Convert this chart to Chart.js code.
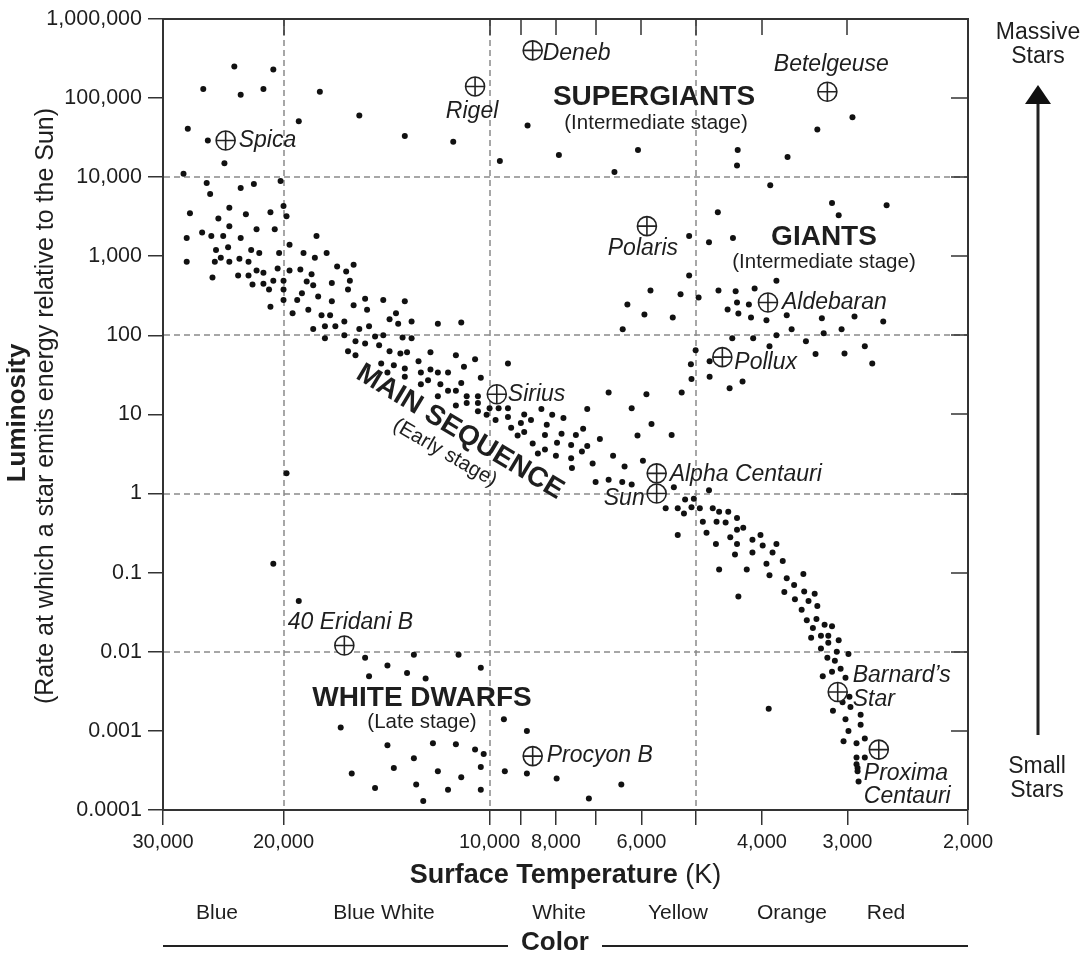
<!DOCTYPE html>
<html>
<head>
<meta charset="utf-8">
<title>Hertzsprung-Russell Diagram</title>
<script src="https://cdn.jsdelivr.net/npm/chart.js@4.4.1/dist/chart.umd.min.js"></script>
<style>
  html, body { margin: 0; padding: 0; background: #fff; }
  canvas { display: block; }
</style>
</head>
<body>
<canvas id="hr" width="1085" height="958"></canvas>
<script>
// axis ticks
const xTicks = [30000, 20000, 10000, 9000, 8000, 7000, 6000, 5000, 4000, 3000, 2000];
const xTickLabels = ["30,000", "20,000", "10,000", "", "8,000", "", "6,000", "", "4,000", "3,000", "2,000"];
const yTicks = [1e-4, 1e-3, 1e-2, 0.1, 1, 10, 100, 1e3, 1e4, 1e5, 1e6];
const yTickLabels = ["0.0001", "0.001", "0.01", "0.1", "1", "10", "100", "1,000", "10,000", "100,000", "1,000,000"];
const xGridLines = [20000, 10000, 5000];
const yGridLines = [1e4, 100, 1, 0.01];
const colorNames = ["Blue", "Blue White", "White", "Yellow", "Orange", "Red"];

// [temperature K, luminosity Lsun]
const supergiantStars = [
  [23600, 2.5e5], [20700, 2.3e5], [26200, 1.3e5], [23100, 1.1e5], [21400, 1.3e5], [17700, 1.2e5],
  [15500, 6.0e4], [19000, 5.1e4], [27600, 4.1e4], [25800, 2.9e4], [13300, 3.3e4], [11300, 2.8e4],
  [9660, 1.6e4], [8800, 4.5e4], [7920, 1.9e4], [6070, 2.2e4], [6570, 1.16e4], [4340, 2.2e4],
  [4350, 1.4e4], [3890, 7900], [2950, 5.7e4], [3320, 4.0e4], [3670, 1.8e4]
];

const giantStars = [
  [4640, 3600], [5110, 1800], [4780, 1500], [4410, 1700], [3160, 4700], [3090, 3300], [2630, 4400],
  [5110, 570], [5820, 370], [5260, 330], [4950, 300], [4630, 370], [4370, 360], [4100, 390], [3810, 490],
  [6290, 245], [5940, 184], [5400, 168], [6390, 119], [4490, 212], [4350, 260], [4180, 245], [4330, 189],
  [4150, 168], [4420, 92], [4120, 92], [5000, 65], [4770, 47], [5080, 43], [5070, 28], [4770, 30],
  [4460, 21.5], [4270, 26], [3940, 155], [3680, 179], [3270, 164], [2930, 173], [2660, 150], [3620, 119],
  [3250, 106], [3060, 119], [3810, 100], [3450, 84], [3900, 73], [3340, 58], [3030, 59], [2830, 73], [2760, 44]
];

const mainSequenceStars = [
  [24400, 1.5e4], [28000, 1.1e4], [25900, 8400], [20200, 8900], [23100, 7300], [22100, 8200], [25600, 6100],
  [27400, 3500], [24000, 4100], [24900, 3000], [22700, 3400], [20900, 3600], [20000, 4300], [19800, 3200],
  [26300, 2000], [24000, 2400], [25500, 1800], [24500, 1800], [23100, 1700], [21900, 2200], [20600, 2200],
  [27700, 1700], [19600, 1400], [17900, 1800], [25100, 1200], [24100, 1300], [22300, 1200], [21700, 1100],
  [20300, 1100], [18700, 1100], [18000, 960], [17300, 1100], [27700, 850], [25200, 850], [24700, 960],
  [24000, 850], [23200, 930], [22500, 850], [21900, 660], [21400, 620], [20400, 700], [19600, 660],
  [18900, 680], [18200, 590], [16700, 740], [16200, 640], [15800, 780],
  [25400, 540], [23300, 570], [22500, 570], [22200, 440], [21400, 450], [20700, 490], [20000, 490],
  [18500, 480], [18100, 430], [17000, 460], [16000, 490],
  [21000, 380], [20000, 380], [18800, 340], [16100, 380], [20900, 230], [20000, 280], [19100, 280],
  [19400, 190], [18400, 210], [17800, 310], [17000, 270], [17600, 180], [17100, 180], [15800, 240],
  [15200, 290], [15100, 210], [14300, 280], [13300, 270], [13700, 190], [14000, 160], [13600, 140],
  [13000, 150], [11900, 140], [11000, 145],
  [18100, 120], [17400, 130], [16800, 130], [16300, 150], [15500, 120], [15000, 130], [16300, 100],
  [17400, 92], [15700, 84], [15200, 79], [14700, 97], [14300, 100], [13400, 94], [13000, 92], [14500, 75],
  [16100, 63], [15700, 56], [14000, 63], [13500, 59], [13200, 61], [12200, 61], [11200, 56], [10500, 50],
  [14400, 44], [13800, 42], [12700, 47], [14100, 34], [13300, 38], [12600, 34], [12200, 37], [11900, 34],
  [11500, 34], [10900, 40], [13300, 30], [12300, 27], [12600, 24], [11800, 24], [11000, 25], [10300, 29],
  [11500, 20], [11200, 20], [11900, 17], [10800, 17], [10400, 17], [11200, 13], [10800, 14], [10400, 14],
  [10400, 11], [10100, 9.9], [10000, 12], [9800, 8.5], [9700, 12], [9400, 44], [19800, 1.8],
  [9400, 12], [9400, 9.3], [8900, 10], [8700, 8.5], [8400, 11.7], [8100, 9.9], [7800, 9.0], [9300, 6.8],
  [9000, 7.8], [8900, 6.0], [9100, 5.4], [8250, 7.4], [8300, 5.5], [7850, 5.7], [7480, 5.5], [7300, 6.6],
  [8650, 4.3], [8500, 3.2], [8300, 3.6], [7970, 4.4], [8000, 3.0], [7600, 4.1], [7600, 2.8], [7330, 3.4],
  [7200, 4.0], [7580, 2.1], [7070, 2.4],
  [6700, 19], [5900, 18], [5240, 19], [6200, 12], [7200, 11.7], [5800, 7.6], [5420, 5.5], [6080, 5.4],
  [6900, 4.9], [6600, 3.0], [5970, 2.6], [6350, 2.2], [7000, 1.4], [6700, 1.5], [6400, 1.4], [6200, 1.3],
  [5380, 1.2], [4780, 1.1], [5180, 0.84], [5030, 0.86], [5530, 0.65], [5310, 0.65], [5200, 0.56],
  [5070, 0.67], [4930, 0.65], [4720, 0.65], [4620, 0.59], [4480, 0.59], [4880, 0.44], [4660, 0.44],
  [4520, 0.43], [4350, 0.49], [4350, 0.35], [4260, 0.37], [4820, 0.32], [4450, 0.28], [5310, 0.30],
  [4670, 0.23], [4350, 0.23], [4130, 0.26], [4020, 0.30], [4380, 0.17], [3990, 0.22], [3810, 0.23],
  [4130, 0.18], [3860, 0.18], [3730, 0.14], [4620, 0.11], [4210, 0.11], [4330, 0.05],
  [3940, 0.13], [3900, 0.093], [3680, 0.085], [3480, 0.096], [3590, 0.070], [3710, 0.057], [3470, 0.058],
  [3350, 0.054], [3580, 0.046], [3420, 0.044], [3320, 0.038], [3500, 0.034], [3440, 0.025], [3330, 0.026],
  [3240, 0.022], [3160, 0.021], [3370, 0.020], [3280, 0.016], [3200, 0.016], [3390, 0.015], [3090, 0.014],
  [3200, 0.013], [3280, 0.011], [3110, 0.010], [2990, 0.0094], [3210, 0.0084], [3130, 0.0077],
  [3160, 0.0056], [3070, 0.0061], [3260, 0.0049], [3020, 0.0047], [2980, 0.0027], [3050, 0.0023],
  [2970, 0.0020], [3150, 0.0018], [2870, 0.0016], [3020, 0.0014], [2870, 0.0012], [2990, 0.001],
  [3910, 0.0019], [3040, 0.00074], [2910, 0.0007], [2830, 0.0008], [2910, 0.00046], [2830, 0.00046],
  [2910, 0.00038], [2900, 0.00034], [2900, 0.00031], [2890, 0.00023]
];

const whiteDwarfStars = [
  [20700, 0.13], [19000, 0.044], [15200, 0.0084], [14100, 0.0067], [12900, 0.0092], [11100, 0.0092],
  [10300, 0.0063], [15000, 0.0049], [13200, 0.0054], [12400, 0.0046], [16500, 0.0011], [14100, 0.00066],
  [12100, 0.0007], [11200, 0.00068], [10500, 0.00058], [10200, 0.00051], [12900, 0.00045], [15900, 0.00029],
  [13800, 0.00034], [11900, 0.00031], [10300, 0.00035], [11000, 0.00026], [14700, 0.00019], [12800, 0.00021],
  [11500, 0.00018], [10300, 0.00018], [12500, 0.00013], [9530, 0.0014], [8820, 0.001], [9500, 0.00031],
  [8820, 0.00029], [7980, 0.00025], [6420, 0.00021], [7160, 0.00014]
];

// named stars
const starNames = ["Deneb", "Rigel", "Betelgeuse", "Spica", "Polaris", "Aldebaran", "Pollux", "Sirius",
  "Alpha Centauri", "Sun", "40 Eridani B", "Procyon B", "Barnard’s Star", "Proxima Centauri"];
const starTemps = [8650, 10500, 3210, 24300, 5890, 3920, 4570, 9760, 5700, 5700, 16300, 8650, 3100, 2700];
const starLums = [4.0e5, 1.4e5, 1.2e5, 2.9e4, 2400, 260, 53, 18, 1.8, 1, 0.012, 0.00048, 0.0031, 0.00058];

// where each name sits relative to its symbol
const labelPlace = {
  "Deneb": { dx: 10, dy: 3, align: "left" },
  "Rigel": { dx: -3, dy: 25, align: "center" },
  "Betelgeuse": { dx: 4, dy: -27, align: "center" },
  "Spica": { dx: 13, dy: 0, align: "left" },
  "Polaris": { dx: -4, dy: 22, align: "center" },
  "Aldebaran": { dx: 14, dy: 0, align: "left" },
  "Pollux": { dx: 12, dy: 5, align: "left" },
  "Sirius": { dx: 11, dy: 0, align: "left" },
  "Alpha Centauri": { dx: 13, dy: 1, align: "left" },
  "Sun": { dx: -12, dy: 5, align: "right" },
  "40 Eridani B": { dx: 6, dy: -23, align: "center" },
  "Procyon B": { dx: 14, dy: 0, align: "left" },
  "Barnard’s Star": { dx: 15, dy: -16, align: "left", lines: ["Barnard’s", "Star"], gap: 24 },
  "Proxima Centauri": { dx: -15, dy: 24, align: "left", lines: ["Proxima", "Centauri"], gap: 23 }
};

const FONT = '"Liberation Sans", Arial, Helvetica, sans-serif';
const INK = "#1e1e1e";
Chart.defaults.font.family = FONT;
Chart.defaults.color = INK;

const toPoints = list => list.map(([t, l]) => ({ x: t, y: l }));
const allDots = [].concat(
  toPoints(supergiantStars), toPoints(giantStars),
  toPoints(mainSequenceStars), toPoints(whiteDwarfStars)
);
const namedPoints = starNames.map((n, i) => ({ x: starTemps[i], y: starLums[i], name: n }));

function text(ctx, s, x, y, font, align) {
  ctx.font = font;
  ctx.textAlign = align || "center";
  ctx.textBaseline = "middle";
  ctx.fillText(s, x, y);
}

const hrDecor = {
  id: "hrDecor",
  beforeDatasetsDraw(chart) {
    const { ctx, chartArea: a, scales: { x, y } } = chart;
    ctx.save();
    ctx.strokeStyle = "#8a8a8a";
    ctx.lineWidth = 1.5;
    ctx.setLineDash([6, 4]);
    ctx.beginPath();
    xGridLines.forEach(v => {
      const px = Math.round(x.getPixelForValue(v));
      ctx.moveTo(px, a.top + 1);
      ctx.lineTo(px, a.bottom - 1);
    });
    yGridLines.forEach(v => {
      const py = Math.round(y.getPixelForValue(v));
      ctx.moveTo(a.left + 1, py);
      ctx.lineTo(a.right - 1, py);
    });
    ctx.stroke();
    ctx.restore();
  },
  afterDraw(chart) {
    const { ctx, chartArea: a, scales: { x, y } } = chart;
    ctx.save();

    // top and right frame with inward ticks
    ctx.strokeStyle = "#333";
    ctx.lineWidth = 2;
    ctx.beginPath();
    ctx.moveTo(a.left, a.top);
    ctx.lineTo(a.right, a.top);
    ctx.lineTo(a.right, a.bottom);
    ctx.stroke();
    ctx.lineWidth = 1.5;
    ctx.beginPath();
    xTicks.slice(1, -1).forEach(v => {
      const px = Math.round(x.getPixelForValue(v));
      ctx.moveTo(px, a.top);
      ctx.lineTo(px, a.top + 16);
    });
    yTicks.slice(1, -1).forEach(v => {
      const py = Math.round(y.getPixelForValue(v));
      ctx.moveTo(a.right, py);
      ctx.lineTo(a.right - 17, py);
    });
    ctx.stroke();

    ctx.fillStyle = INK;

    // star names
    namedPoints.forEach(p => {
      const place = labelPlace[p.name];
      const px = x.getPixelForValue(p.x);
      const py = y.getPixelForValue(p.y);
      const lines = place.lines || [p.name];
      lines.forEach((s, i) => {
        text(ctx, s, px + place.dx, py + place.dy + i * (place.gap || 0), "italic 23px " + FONT, place.align);
      });
    });

    // regions
    const big = "bold 28px " + FONT;
    const small = "20.5px " + FONT;
    text(ctx, "SUPERGIANTS", 654, 97, big);
    text(ctx, "(Intermediate stage)", 656, 123, small);
    text(ctx, "GIANTS", 824, 237, big);
    text(ctx, "(Intermediate stage)", 824, 262, small);
    text(ctx, "WHITE DWARFS", 422, 698, big);
    text(ctx, "(Late stage)", 422, 722, small);

    ctx.save();
    ctx.translate(460, 432);
    ctx.rotate(31 * Math.PI / 180);
    text(ctx, "MAIN SEQUENCE", 0, 0, big);
    ctx.restore();
    ctx.save();
    ctx.translate(445, 453);
    ctx.rotate(30 * Math.PI / 180);
    text(ctx, "(Early stage)", 0, 0, small);
    ctx.restore();

    // y title
    ctx.save();
    ctx.translate(18, 413);
    ctx.rotate(-Math.PI / 2);
    text(ctx, "Luminosity", 0, 0, "bold 26px " + FONT);
    ctx.restore();
    ctx.save();
    ctx.translate(46, 406);
    ctx.rotate(-Math.PI / 2);
    text(ctx, "(Rate at which a star emits energy relative to the Sun)", 0, 0, "25px " + FONT);
    ctx.restore();

    // x title
    const cx = (a.left + a.right) / 2;
    ctx.font = "bold 27px " + FONT;
    const w1 = ctx.measureText("Surface Temperature ").width;
    ctx.font = "27px " + FONT;
    const w2 = ctx.measureText("(K)").width;
    const sx = cx - (w1 + w2) / 2;
    text(ctx, "Surface Temperature ", sx, 876, "bold 27px " + FONT, "left");
    text(ctx, "(K)", sx + w1, 876, "27px " + FONT, "left");

    // colour row
    const colorX = [217, 384, 559, 678, 792, 886];
    colorNames.forEach((c, i) => text(ctx, c, colorX[i], 913, "21px " + FONT));
    text(ctx, "Color", 555, 943, "bold 26px " + FONT);
    ctx.strokeStyle = "#222";
    ctx.lineWidth = 2;
    ctx.beginPath();
    ctx.moveTo(a.left, 946); ctx.lineTo(508, 946);
    ctx.moveTo(602, 946); ctx.lineTo(a.right, 946);
    ctx.stroke();

    // mass arrow
    text(ctx, "Massive", 1038, 33, "23px " + FONT);
    text(ctx, "Stars", 1038, 57, "23px " + FONT);
    text(ctx, "Small", 1037, 767, "23px " + FONT);
    text(ctx, "Stars", 1037, 791, "23px " + FONT);
    ctx.lineWidth = 3;
    ctx.beginPath();
    ctx.moveTo(1038, 100); ctx.lineTo(1038, 735);
    ctx.stroke();
    ctx.fillStyle = "#111";
    ctx.beginPath();
    ctx.moveTo(1038, 85); ctx.lineTo(1051, 104); ctx.lineTo(1025, 104);
    ctx.closePath();
    ctx.fill();

    ctx.restore();
  }
};

new Chart(document.getElementById("hr"), {
  type: "scatter",
  data: {
    datasets: [
      { label: "named-cross", data: namedPoints, pointStyle: "cross", pointRadius: 9.5,
        borderColor: "#222", borderWidth: 1.6, order: 0 },
      { label: "named-ring", data: namedPoints, pointStyle: "circle", pointRadius: 9.5,
        backgroundColor: "#fff", borderColor: "#222", borderWidth: 1.6, order: 1 },
      { label: "stars", data: allDots, pointStyle: "circle", pointRadius: 3,
        backgroundColor: "#111", borderWidth: 0, order: 2 }
    ]
  },
  options: {
    responsive: false,
    animation: false,
    events: [],
    layout: { padding: { top: 15, right: 117, left: 0, bottom: 0 } },
    plugins: { legend: { display: false }, tooltip: { enabled: false } },
    scales: {
      x: {
        type: "logarithmic",
        reverse: true,
        min: 2000,
        max: 30000,
        afterBuildTicks: s => { s.ticks = xTicks.map(v => ({ value: v })); },
        afterFit: s => { s.height = 148; },
        ticks: {
          autoSkip: false, maxRotation: 0, padding: 5,
          font: { size: 20 }, color: INK,
          callback: (v, i) => xTickLabels[i]
        },
        grid: { drawOnChartArea: false, drawTicks: true, tickLength: 15, color: "#333", lineWidth: 1.5 },
        border: { display: true, color: "#333", width: 2 }
      },
      y: {
        type: "logarithmic",
        min: 1e-4,
        max: 1e6,
        afterBuildTicks: s => { s.ticks = yTicks.map(v => ({ value: v })); },
        afterFit: s => { s.width = 163; },
        ticks: {
          autoSkip: false, padding: 6,
          font: { size: 21.5 }, color: INK,
          callback: (v, i) => yTickLabels[i]
        },
        grid: { drawOnChartArea: false, drawTicks: true, tickLength: 15, color: "#333", lineWidth: 1.5 },
        border: { display: true, color: "#333", width: 2 }
      }
    }
  },
  plugins: [hrDecor]
});
</script>
</body>
</html>
